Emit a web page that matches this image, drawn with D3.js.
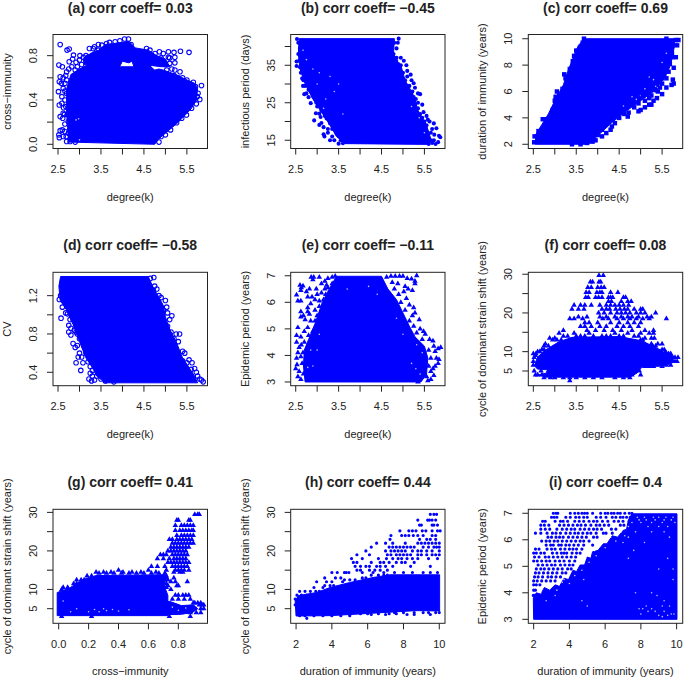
<!DOCTYPE html>
<html><head><meta charset="utf-8">
<script src="https://cdn.jsdelivr.net/npm/d3@7"></script>
<style>html,body{margin:0;padding:0;background:#fff}svg{display:block}text{font-family:"Liberation Sans",Arial,sans-serif;fill:#222}</style>
</head><body><svg id="c" width="685" height="679"></svg>
<script>
// Titles and axis labels
const titles = ["(a) corr coeff= 0.03","(b) corr coeff= \u22120.45","(c) corr coeff= 0.69","(d) corr coeff= \u22120.58","(e) corr coeff= \u22120.11","(f) corr coeff= 0.08","(g) corr coeff= 0.41","(h) corr coeff= 0.44","(i) corr coeff= 0.4"];
const xLabels = ["degree(k)","degree(k)","degree(k)","degree(k)","degree(k)","degree(k)","cross\u2212immunity","duration of immunity (years)","duration of immunity (years)"];
const yLabels = ["cross\u2212immunity","infectious period (days)","duration of immunity (years)","CV","Epidemic period (years)","cycle of dominant strain shift (years)","cycle of dominant strain shift (years)","cycle of dominant strain shift (years)","Epidemic period (years)"];
// Axis limits
const xDomains = [[2.383,5.98],[2.383,5.98],[2.383,5.98],[2.383,5.98],[2.383,5.98],[2.383,5.98],[-0.038,0.995],[1.70,10.32],[1.70,10.34]];
const yDomains = [[-0.038,0.991],[12.8,43.2],[1.68,10.32],[0.26,1.444],[2.86,7.13],[1.2,30.5],[1.21,30.8],[1.21,30.8],[2.85,7.15]];
// Ticks
const kTicks=[2.5,3,3.5,4,4.5,5,5.5], kLab=[2.5,3.5,4.5,5.5];
const xTicks=[kTicks,kTicks,kTicks,kTicks,kTicks,kTicks,[0,.2,.4,.6,.8],[2,4,6,8,10],[2,4,6,8,10]];
const xTickLabels=[kLab,kLab,kLab,kLab,kLab,kLab,[0,.2,.4,.6,.8],[2,4,6,8,10],[2,4,6,8,10]];
const cycT=[5,10,15,20,25,30], cycL=[5,10,20,30];
const yTicks=[[0,.2,.4,.6,.8],[15,20,25,30,35,40],[2,4,6,8,10],[.4,.6,.8,1,1.2],[3,4,5,6,7],cycT,cycT,cycT,[3,4,5,6,7]];
const yTickLabels=[[0,.4,.8],[15,25,35],[2,4,6,8,10],[.4,.8,1.2],[3,4,5,6,7],cycL,cycL,cycL,[3,4,5,6,7]];
const xFmt=[".1f",".1f",".1f",".1f",".1f",".1f",".1f","d","d"];
const yFmt=[".1f","d","d",".1f","d","d","d","d","d"];

const coreA=[[[2.75,.02],[4.75,0],[4.85,.05],[5.0,.1],[5.15,.15],[5.3,.2],[5.45,.26],[5.6,.32],[5.72,.4],[5.75,.5],[5.68,.55],[5.45,.59],[5.3,.62],[5.1,.65],[4.95,.67],[4.85,.68],[4.75,.67],[4.6,.72],[4.3,.70],[3.95,.70],[3.7,.72],[3.4,.74],[3.2,.72],[3.0,.68],[2.8,.63],[2.7,.5],[2.7,.3],[2.72,.15]],
[[3.1,.78],[3.3,.83],[3.45,.85],[3.6,.9],[3.8,.91],[4.0,.92],[4.15,.93],[4.3,.87],[4.6,.85],[4.8,.8],[5.0,.77],[5.1,.7],[4.9,.7],[4.7,.71],[4.4,.70],[4.28,.69],[4.22,.75],[4.15,.735],[4.0,.75],[3.92,.69],[3.5,.7],[3.1,.72]]];
const pointsA=[[2.55,.90],[2.76,.86],[2.71,.85],[2.52,.715],[2.6,.70],[2.76,.745],[2.86,.805],[2.84,.77],[2.92,.74],[3.01,.80],[3.09,.785],[3.2,.785],[3.23,.865],[3.3,.79],[3.32,.865],[3.44,.90],[3.44,.85],[2.53,.565],[2.51,.475],[2.55,.61],[2.62,.505],[2.59,.43],[2.53,.355],[2.59,.37],[2.62,.28],[2.55,.25],[2.61,.235],[2.55,.123],[2.6,.13],[2.52,.085],[2.53,.06],[2.62,.07],[2.66,.183],[2.74,.205],[2.7,.025],[2.78,.025],[2.66,.115],[2.74,.1],[2.68,.34],[2.7,.58],[2.66,.40],[2.7,.655],[2.75,.68],[2.62,.6],[2.66,.55],[2.7,.46],[2.63,.33],[2.72,.27],[2.85,.06],[2.9,.02],[2.68,.62],[2.66,.48],[2.65,.27],[2.69,.07],[2.58,.55],[2.82,.7],[2.95,.7],[3.05,.72],[3.15,.76],[2.9,.67],[5.55,.83],[5.35,.84],[5.2,.83],[5.07,.835],[4.86,.835],[4.95,.82],[5.22,.785],[5.07,.785],[4.95,.745],[5.1,.73],[5.22,.735],[5.03,.67],[5.22,.67],[5.34,.655],[5.65,.56],[5.84,.53],[5.76,.46],[5.8,.405],[5.72,.365],[5.61,.325],[5.49,.265],[5.38,.235],[5.26,.195],[5.12,.13],[5.0,.085],[3.94,.935],[4.14,.95],[3.83,.925],[3.63,.91],[3.52,.895],[4.64,.85],[4.76,.82],[4.56,.865],[4.05,.95],[4.2,.9],[3.7,.92],[5.5,.58],[5.58,.54],[5.7,.52],[5.74,.43],[5.66,.4],[4.9,.07],[3.0,.76],[3.3,.75],[5.3,.6],[5.4,.3],[4.85,.02],[3.35,.88],[3.15,.8],[5.1,.78],[4.9,.78],[5.0,.72],[5.15,.68],[5.2,.62],[5.4,.6]];
const flecksA=[[2.92,.22],[2.98,.23],[3.0,.04]];

const coreB=[[[2.58,42.1],[4.8,42.1],[4.78,38],[4.95,35],[5.05,31],[5.25,27],[5.35,23],[5.55,19],[5.66,15],[5.6,13.9],[3.65,14.1],[3.45,16],[3.3,19],[3.1,22.5],[2.9,26],[2.72,30],[2.6,34],[2.56,38]]];
const pointsB=[[2.53,42],[2.56,41],[2.6,39.5],[2.56,38],[2.62,37.5],[2.52,36],[2.58,36.2],[2.52,34.8],[2.6,34.5],[2.66,34],[2.62,33],[2.7,32.5],[2.65,31.5],[2.75,31],[2.72,29.5],[2.67,29.5],[2.8,28.5],[2.7,27.3],[2.75,27.5],[2.85,24.9],[2.95,26],[3.0,24],[3.1,23],[2.97,22.2],[3.05,22.1],[2.93,20.3],[3.08,21.2],[3.18,21.5],[3.1,19.6],[3.05,19.1],[3.15,18.5],[3.25,18],[3.15,16.6],[3.17,16],[3.25,17],[3.35,16],[3.4,15],[3.5,14.1],[3.55,15],[3.68,14.6],[3.75,15.8],[2.85,28],[2.9,26.8],[2.98,25],[3.08,24],[3.15,22.6],[3.22,20.8],[3.3,19.5],[3.35,18],[3.45,16.8],[3.3,15],[3.6,14.2],[2.8,26.5],[2.68,31],[4.9,42.1],[4.88,41],[4.85,39.5],[4.95,37],[5.02,36.2],[5.08,35],[5.1,33.5],[5.18,32.5],[5.1,32],[5.2,31],[5.25,30.2],[5.28,29],[5.22,28],[5.35,27.5],[5.4,27.3],[5.3,26],[5.28,24.5],[5.45,24.5],[5.48,22.5],[5.4,22],[5.55,21.5],[5.58,20.5],[5.55,19],[5.72,19.5],[5.78,18.2],[5.68,18],[5.73,16.5],[5.84,16.2],[5.87,15.8],[5.82,14.5],[5.76,14],[5.65,15],[5.5,15.5],[4.8,41],[4.78,38],[4.85,37],[4.95,35],[5,33],[5.05,31],[5.15,29.5],[5.25,26.5],[5.35,25],[5.35,23.5],[5.45,21],[5.5,20],[5.62,20],[5.65,17],[5.72,15],[5.6,14],[5.68,14.3]];
const flecksB=[[5.2,32],[5.3,28.5],[5.25,27],[5.4,26],[5.38,21],[3.3,32],[3.4,28],[2.9,34],[2.75,36.5],[2.67,39],[3.05,33],[3.2,26],[3.15,23.5],[4.95,39],[4.9,36],[5.05,32.5],[3.6,22],[3.0,30],[3.5,30],[5.5,17],[5.2,24]];

const coreC=[[[2.55,2.0],[3.8,2.0],[3.95,2.5],[4.15,3.1],[4.35,3.7],[4.7,4.6],[5.0,5.3],[5.3,6.0],[5.55,7],[5.7,8],[5.78,9.3],[5.8,10],[3.7,10],[3.55,9.5],[3.42,8.5],[3.3,7.5],[3.2,6.5],[3.0,5.3],[2.85,4.3],[2.7,3.5],[2.55,2.7]]];
const pointsC=[[2.52,2.15],[2.53,2.6],[2.62,3],[2.72,3.9],[2.8,3.9],[2.95,4.6],[3.0,5.3],[3.02,5.6],[3.05,6.0],[3.1,5.7],[3.18,6.2],[3.27,6.3],[3.25,7.0],[3.22,7.3],[3.35,7.7],[3.42,8.3],[3.45,8.7],[3.5,9.1],[3.62,9.1],[3.65,9.7],[3.68,10],[3.4,2],[3.6,2],[3.75,2.1],[3.88,2.2],[4.0,2.7],[4.2,2.85],[4.3,3.1],[4.33,3.35],[4.5,4.0],[4.7,4.1],[4.72,4.4],[4.95,4.5],[5.0,4.6],[5.1,4.8],[5.2,5.0],[5.25,5.0],[5.3,5.3],[5.2,5.5],[5.05,5.7],[5.38,5.5],[5.4,6.0],[5.45,6.3],[5.5,5.8],[5.6,6.3],[5.72,6.5],[5.77,6.6],[5.75,6.9],[5.6,7.0],[5.5,7.0],[5.77,7.8],[5.82,8.6],[5.74,8.6],[5.85,9.5],[5.88,9.9],[5.82,9.9],[5.75,9.5],[5.6,10],[5.25,6.3],[4.1,3.1],[4.4,3.6],[4.55,4.4],[4.62,4.3],[4.85,4.8],[4.8,5.1],[4.95,5.1],[5.1,5.3],[5.15,5.8],[5.25,5.7],[5.35,6.1],[5.42,6.7],[5.5,6.6],[5.55,7.3],[5.65,7.5],[5.68,8.1],[5.73,8.9],[4.1,2.6],[3.95,2.3]];
const flecksC=[[4.6,4.9],[5.1,6.2],[5.3,6.9],[5.5,8.2],[5.6,8.9],[4.8,5.6],[5.2,7.1],[5.35,6.4],[5.0,5.7],[4.9,5.4]];

const coreD=[[[2.56,1.4],[4.6,1.4],[4.7,1.3],[4.8,1.22],[4.95,1.1],[5.0,.98],[5.1,.85],[5.25,.72],[5.4,.55],[5.55,.45],[5.68,.36],[5.75,.29],[3.6,.29],[3.4,.36],[3.3,.45],[3.15,.55],[3.0,.72],[2.85,.9],[2.7,1.05],[2.55,1.15],[2.52,1.3]]];
const pointsD=[[2.57,.965],[2.68,1.02],[2.72,1.01],[2.6,1.08],[2.53,1.16],[2.56,1.2],[2.75,.89],[2.8,.86],[2.75,.82],[2.8,.79],[2.88,.84],[2.92,.82],[2.85,.7],[2.9,.66],[2.95,.68],[3.0,.6],[2.97,.56],[3.05,.56],[2.92,.5],[3.03,.42],[3.2,.51],[3.25,.46],[3.22,.33],[3.28,.31],[3.3,.36],[3.4,.36],[3.5,.33],[3.6,.31],[3.8,.3],[3.0,.75],[3.1,.68],[3.15,.6],[3.08,.5],[3.3,.42],[3.25,.39],[3.35,.32],[2.95,.8],[2.85,.95],[2.78,.95],[4.73,1.39],[4.65,1.38],[4.75,1.3],[4.8,1.27],[4.72,1.25],[4.9,1.18],[5.0,1.15],[5.03,1.08],[4.95,1.05],[5.15,.99],[5.1,.95],[5.05,.88],[5.13,.82],[5.33,.8],[5.25,.8],[5.3,.72],[5.4,.62],[5.45,.6],[5.55,.53],[5.62,.5],[5.68,.44],[5.72,.4],[5.8,.33],[5.84,.32],[5.88,.3],[5.6,.43],[5.4,.52],[4.85,1.2],[5.05,1.02],[5.2,.75],[5.5,.5],[5.75,.36]];
const flecksD=[];

const coreE=[[[2.72,3.0],[5.42,3.0],[5.55,3.3],[5.58,3.9],[5.5,4.35],[5.28,4.7],[5.15,5.1],[5.0,5.6],[4.85,6.1],[4.65,6.5],[4.5,6.98],[3.45,6.98],[3.28,6.5],[3.12,6.0],[2.95,5.2],[2.8,4.6],[2.7,4.2],[2.68,3.6]]];
const pointsE=[[2.86,6.95],[2.92,6.95],[2.9,6.85],[3.05,6.95],[3.18,6.8],[3.35,6.95],[3.42,6.98],[3.25,6.55],[3.1,6.35],[3.18,6.5],[2.6,6.65],[2.63,6.55],[2.67,6.62],[2.62,6.45],[2.52,6.28],[2.55,6.05],[2.62,6.05],[2.75,6.4],[2.82,6.5],[2.78,6.2],[2.88,6.2],[2.98,6.5],[2.95,6.1],[2.78,5.8],[2.85,5.95],[2.78,5.65],[2.62,5.65],[2.68,5.5],[2.62,5.45],[2.72,5.35],[2.82,5.55],[2.95,5.7],[3.05,5.85],[2.55,5.05],[2.85,5.3],[2.52,4.75],[2.62,4.7],[2.7,4.9],[2.78,5.05],[2.52,4.5],[2.58,4.3],[2.55,4.1],[2.52,3.9],[2.62,3.95],[2.53,3.65],[2.5,3.5],[2.58,3.4],[2.55,3.2],[2.62,3.1],[2.68,3.3],[2.65,3.7],[2.7,4.5],[2.63,4.4],[2.67,4.1],[2.95,5.3],[3.0,5.5],[3.1,5.6],[3.15,6.1],[3.3,6.2],[3.35,6.7],[3.25,6.9],[3.5,6.85],[2.9,4.9],[2.8,4.75],[3.1,6.7],[3.0,6.3],[3.05,6.05],[3.2,6.3],[3.22,6.65],[4.62,6.95],[4.72,6.98],[4.82,6.98],[4.92,6.98],[5.0,6.98],[4.75,6.75],[4.88,6.7],[5.1,6.9],[5.2,6.88],[5.32,7.0],[5.28,6.8],[5.28,6.7],[5.05,6.6],[5.02,6.4],[5.12,6.5],[5.22,6.45],[4.9,6.3],[5.08,6.15],[5.15,5.9],[5.25,5.8],[5.28,5.6],[5.22,5.5],[5.38,5.35],[5.4,5.0],[5.48,4.9],[5.52,4.8],[5.62,4.6],[5.7,4.55],[5.72,4.35],[5.82,4.25],[5.88,4.3],[5.75,4.15],[5.78,3.9],[5.84,3.85],[5.82,3.7],[5.75,3.6],[5.7,3.5],[5.72,3.25],[5.65,3.1],[5.58,3.05],[5.35,3.0],[4.7,6.3],[4.8,6.5],[4.95,6.0],[5.05,5.7],[5.15,5.3],[5.25,5.1],[5.32,4.85],[5.45,4.6],[5.6,4.2],[5.65,3.9],[5.6,3.6],[5.65,3.4],[5.55,3.2]];
const flecksE=[[2.9,3.6],[2.78,3.55],[5.45,4.1],[5.32,4.4],[4.85,5.4],[5,4.8],[3.0,4.2],[5.4,3.3],[5.3,3.5],[5.2,3.7],[2.85,4.2],[3.05,4.8],[4.2,6.6],[4.4,6.3],[3.7,6.5]];

const coreF=[[[2.55,7.2],[2.6,8.6],[2.78,10.4],[3.09,12.5],[3.4,13.7],[4.5,13.9],[5.03,12.8],[5.42,10.7],[5.75,8.3],[5.78,7.3],[5.6,6.5],[5.03,6.0],[4.92,4.5],[4.75,3.4],[2.8,3.4],[2.62,4.0],[2.82,4.5],[2.85,5.3],[2.6,5.5],[2.55,6]]];
const rowsF=[[29.7,[4.03,4.13]],[28,[3.83,3.88,4.03,4.07]],[26.6,[3.77,3.85,4.0,4.08,4.15]],[25.3,[3.73,3.8,3.98,4.05,4.1,4.3,4.47]],[24,[3.72,3.78,3.95,4.02,4.1,4.25,4.3,4.35,4.6,4.65]],[23,[4.25,4.32,4.55,4.7,4.78]],[22,[3.45,3.6,3.7,3.85,4.05,4.2,4.3,4.4,4.5,4.6,4.72]],[21,[3.4,3.55,3.68,4.1,4.2,4.28,4.42,4.52,4.62,4.7,4.85,5.0,5.05]],[20,[4.02,4.15,4.3,4.45,4.55,4.65,4.75,4.9,5.0,5.1,5.35]],[19,[3.55,3.75,4.05,4.2,4.4,4.55,4.7,4.8,4.95,5.15,5.25]],[18.5,[3.35,3.45,3.65,4.12,4.25,4.45,4.6,4.75,4.9,5.05,5.2,5.6]],[17.5,[3.7,3.8,4.0,4.3,4.5,4.7,4.85,5.0]],[16.5,[3.6,3.7,3.85,4.05,4.2,4.45,4.6,4.75,4.95]],[15.5,[3.2,3.75,3.95,4.15,4.35,4.55,4.8,5.1,5.3]],[14.8,[3.1,3.45,3.8,4.4,4.7,5.0,5.2,5.3]],[14,[3.2,3.3,3.5,3.6,3.7,3.9,4.1,4.2,4.3,4.5,4.6,4.85,4.95]],[13.5,[2.88,3.0,5.1,5.25,5.32]],[13,[2.95,3.05,3.15,5.0,5.05]],[12,[2.78,5.25,5.4,5.5]],[11.5,[2.75,2.85,5.28,5.35]],[10.5,[2.7,2.75,5.5,5.55]],[10,[2.6,2.65,5.45,5.58]],[9.5,[2.5,2.56,5.6,5.65,5.7]],[9,[2.55,5.62,5.7]],[8.5,[2.52,5.75,5.8,5.87]],[7.5,[2.5,5.85,5.8]],[6.5,[2.5,5.7,5.6,5.4]],[6.2,[5.3,5.2,5.1,5.5]],[5,[2.52,2.85,4.97,4.85,2.68]],[4,[2.55,2.6,2.7,2.82,4.8,5.0]],[3.3,[3.35,3.0,2.9,2.75,3.2,3.5,3.7,3.9,4.1,4.4,4.6,4.75]],[2.5,[3.35]]];
const flecksF=[];

const coreG=[[[-.01,3.2],[-.01,9.2],[.07,10.3],[.165,12.6],[.25,13.6],[.71,13.8],[.71,10.5],[.73,8.5],[.73,3.2]],[[.7,3.5],[.7,7],[.75,6.8],[.82,5.8],[.9,6],[.93,5],[.89,3.9],[.8,3.5]]];
const rowsG=[[29.5,[.91,.93,.94]],[28,[.79,.8,.87,.88]],[26.6,[.78,.82,.84,.86,.88,.9]],[25.3,[.78,.81,.83,.85,.87,.89,.9]],[24,[.79,.82,.84,.86,.88,.9]],[23,[.74,.76,.79,.81,.83,.85,.87,.89]],[22,[.76,.78,.8,.82,.84,.86,.88,.9]],[21,[.75,.77,.79,.81,.83,.85,.87]],[20,[.73,.75,.77,.79,.81,.83,.85]],[19,[.68,.7,.72,.76,.78,.8,.82,.84,.86]],[18,[.66,.7,.74,.77,.79,.81,.83,.85]],[17,[.73,.75,.77,.79,.81,.83,.85,.87]],[16,[.62,.66,.71,.76,.78,.8,.82,.84,.86]],[15,[.4,.6,.72,.78,.8,.82,.84,.87]],[14.5,[.25,.3,.35,.43,.49,.55,.65,.77,.81,.83]],[14.2,[.27,.32,.37,.42,.47,.52,.57,.62,.67,.71]],[13.5,[.19,.22,.72]],[13,[.77,.72]],[12.5,[.12,.15,.17,.71,.73]],[12,[.75,.78,.86]],[11.5,[.1,.12,.72]],[11,[.73,.8,.79]],[10.5,[.03,.06,.72]],[10,[.75,.02,.1]],[8.5,[.78,.8,.83,.85,.87]],[7.5,[.76,.8,.84,.88]],[6.5,[.91,.93,.95,.9]],[6,[.96,.94,.97]],[5,[.97,.95]],[4,[.95,.92,.88,.82,.76]],[3,[.02,.88,.22,.74]]];
const flecksG=[[.24,4.8],[.3,5],[.32,4.5],[.36,4.8],[.27,4.2],[.2,4.2],[.12,5],[.4,4.4],[.47,4.7],[.08,4.2],[.03,7],[.8,4.6],[.85,5.2],[.76,5.4]];

const coreH=[[[2.0,3.1],[1.95,7],[2.13,8.4],[3.15,9.2],[3.9,10.5],[5,11.8],[6.3,13.1],[7.25,13.8],[10.02,13.8],[10.02,4.4],[8.7,4.5],[5.8,3.7],[3.9,3.2]]];
const rowsH=[[29.5,[9.5,9.7,9.85]],[28,[8.8,9.35,9.45,9.6,9.8]],[26.7,[8.9,9,9.6,9.7,9.9]],[25.2,[7.8,8.3,8.5,8.7,9.05,9.25,9.6,9.9,10.05]],[24,[7.3,7.9,8.1,8.3,8.55,8.8,9.1,9.6,9.8]],[23,[7.25,8.9,9.3,9.5,9.8]],[22,[6.5,7,7.4,8.1,8.8,9,9.2,9.4,9.6,9.8,10]],[21,[6.2,7.2,7.4,7.6,7.8,8,8.2,8.4,8.6,9.1,9.4,9.7,9.85,10]],[20,[5.9,7,7.3,7.5,7.7,7.9,8.1,8.5,8.8,9,9.3,9.6,10]],[19,[5.4,6.1,7.1,7.3,7.6,7.8,8,8.2,8.4,8.8,9,9.3,9.6,9.8,10]],[18,[5.1,5.7,6.6,7.05,7.4,7.7,7.9,8.2,8.5,8.8,9.4,9.9]],[17,[5.2,5.4,6.2,6.7,6.9,7.2,7.6,7.9,8.1,8.6]],[16,[5.3,5.6,5.9,6.1,6.5,6.7,7,7.4,8.4,9.5]],[15,[5.4,5.6,6.1,6.4,6.7,7.1]],[14.4,[4,4.3,4.7,4.8,4.95,5.7,6.3,6.9,7.5,8,8.5,9.1,9.5,9.9]],[13.7,[6.2,6.6,6.9,7.1]],[13,[3.6,4.2,4.5,5.7,5.9]],[12.5,[4.7,5,5.3]],[12,[3.15,3.7,4,4.6]],[11,[3.6,3.9,4.1]],[10.5,[3,3.5]],[9.5,[2.5,2.8,2.2,3.1,3.3]],[8.5,[2.05,2.3,2.6]],[7.5,[1.95]],[6,[1.95]],[3.2,[2.2,2.5,3,3.5,4,4.5,5]],[3.7,[5.6,6,6.6,7.2,7.6]],[2.5,[2.6]],[3.5,[5,6.2,7,8.2,8.6,9.5]],[4,[7.5,8,8.6,9.1,9.4,9.8,10]],[4.6,[6.3,6.9,7.3,7.6]]];
const flecksH=[];

const coreI=[[[2.0,3],[1.98,3.8],[2.15,4.0],[2.4,3.95],[2.6,4.2],[2.9,4.1],[3.2,4.3],[3.45,4.25],[3.7,4.55],[3.95,4.5],[4.2,4.85],[4.4,4.8],[4.6,5.05],[4.85,5.05],[5.0,5.35],[5.2,5.3],[5.3,5.55],[5.6,5.6],[5.9,5.85],[6.1,5.85],[6.4,6.15],[6.7,6.1],[7,6.35],[7.2,6.4],[7.3,6.75],[7.5,6.98],[10.02,6.98],[10.02,3]]];
const rowsI=[[7,[3.1,3.25,3.35,4.05,4.3,4.5,4.7,4.85,5,5.3,5.75,6,6.15,6.35,6.5,6.7,6.85,7.1,7.35,7.5]],[6.85,[3,3.15,3.3,3.8,4.05,4.35,4.55,4.8,5,5.5,5.75,6.05,6.4,6.6,6.85,7,7.2,7.4]],[6.7,[2.5,2.65,3.2,3.5,3.65,3.9,4.3,4.55,4.8,5.1,5.35,5.55,5.85,6.15,6.5,6.75,7,7.35]],[6.55,[2.4,2.6,2.85,3.45,3.7,3.95,4.2,4.45,4.65,4.9,5.2,5.5,5.7,5.95,6.2,6.85,7.05]],[6.4,[2.4,2.65,2.9,3.3,3.6,3.85,4.1,4.3,4.6,4.85,5.1,5.35,5.55,5.8,6.35,6.6]],[6.25,[2.1,2.4,2.75,3.05,3.25,3.5,3.8,4.05,4.3,4.5,4.75,5,5.2,5.5,5.9,6.05,6.4]],[6.1,[2.8,3,3.25,3.45,3.65,3.95,4.2,4.45,4.7,4.95,5.35,5.55]],[5.95,[2.45,2.7,2.9,3.15,3.35,3.6,3.85,4.1,4.35,4.6,4.8,5.1]],[5.8,[2.7,2.95,3.1,3.4,3.55,3.8,4,4.25,4.5,4.8,5.3]],[5.65,[2.1,2.3,2.75,3,3.2,3.5,3.75,4,4.2,4.4,4.7]],[5.5,[2,2.15,2.4,2.6,3.05,3.3,3.55,3.7,3.85,4.15,4.4,4.6]],[5.35,[2.05,2.3,2.65,2.85,3.1,3.35,3.6,3.85,4.1,4.35]],[5.2,[2,2.2,2.45,2.7,2.9,3.2,3.45,3.7,4,4.3]],[5.05,[2.25,2.5,2.75,3,3.2,3.5,3.75,4,4.2]],[4.9,[2.15,2.4,2.6,2.85,3.1,3.35,3.6,3.9,4.1]],[4.75,[2.1,2.3,2.55,2.8,3.05,3.3,3.6,3.8]],[4.6,[2.05,2.25,2.5,2.8,3,3.25,3.5]],[4.45,[2,2.2,2.45,2.7,2.95,3.2]],[4.3,[2,2.15,2.35]],[4.1,[2,2.1]],[3.9,[1.98,2.05]]];
const flecksI=[[7.4,6.85],[7.8,6.85],[8.2,6.85],[8.7,6.85],[9,6.85],[9.4,6.85],[9.8,6.85],[7.9,6.75],[8.3,6.75],[8.8,6.75],[9.3,6.75],[9.7,6.75],[7.5,6.65],[8,6.65],[8.6,6.65],[9.2,6.65],[9.9,6.65],[7.3,6.5],[8.4,6.5],[9,6.5],[9.5,6.5],[6.9,6.3],[7.7,6.3],[8.6,6.3],[9.3,6.3],[6.3,6.1],[7.3,6.1],[9.6,6.1],[7,5.9],[8.2,5.9],[5.4,5.6],[7.6,5.6],[4.9,5.3],[7.3,5.3],[9.5,5.3],[9,4.9],[9.8,4.9],[3.7,4.5],[4.8,4.5],[9.8,4.5],[2.9,4.3],[3.4,4.3],[2.4,4],[7.7,4],[8.6,4],[3.2,3.9],[8.9,3.9],[2.7,3.7],[4.7,3.7],[9.3,3.7],[5,3.5],[8.3,3.5],[9.2,3.5],[9.6,3.5],[7.9,3.4],[8.1,3.4],[8.6,3.4],[8.4,3.3],[8.8,3.3],[9.3,3.3],[8,3.2],[9.7,3.2],[9.85,3.2],[9,3.15],[9.5,3.15],[9.2,3.1],[3.3,4.1],[3.6,4.4],[4,4.35],[4.3,4.65],[4.7,4.85],[5.1,5.15],[5.5,5.4],[6,5.7],[6.6,5.95],[7.1,6.15]];

const flatten = rows => rows.flatMap(([y,xs]) => xs.map(x => [x,y]));
const allCores=[coreA,coreB,coreC,coreD,coreE,coreF,coreG,coreH,coreI];
const allFlecks=[flecksA,flecksB,flecksC,flecksD,flecksE,flecksF,flecksG,flecksH,flecksI];
const allPoints=[pointsA,pointsB,pointsC,pointsD,pointsE,flatten(rowsF),flatten(rowsG),flatten(rowsH),flatten(rowsI)];
const BLUE="#0000ff";
const shapes=["open","circle","square","open","triangle","triangle","triangle","dot","dot"];
const boxX=[[53,207.5],[290.7,445],[528.3,682.7]];
const boxY=[[34.5,148.5],[272.3,385.7],[509.3,623.3]];
const sym={circle:d3.symbol(d3.symbolCircle,13)(),square:d3.symbol(d3.symbolSquare,20)(),triangle:d3.symbol(d3.symbolTriangle,13)(),dot:d3.symbol(d3.symbolCircle,8)(),open:d3.symbol(d3.symbolCircle,16)()};
const svg=d3.select("#c");
titles.forEach((t,i)=>{
  const [x0,x1]=boxX[i%3],[y0,y1]=boxY[Math.floor(i/3)];
  const x=d3.scaleLinear().domain(xDomains[i]).range([x0,x1]);
  const y=d3.scaleLinear().domain(yDomains[i]).range([y1,y0]);
  const g=svg.append("g");
  const line=d3.line().x(d=>x(d[0])).y(d=>y(d[1])).curve(d3.curveLinearClosed);
  g.selectAll("path.core").data(allCores[i]).join("path").attr("class","core").attr("d",line).attr("fill",BLUE).attr("stroke",BLUE).attr("stroke-width",1);
  g.selectAll("circle.fleck").data(allFlecks[i]).join("circle").attr("class","fleck").attr("cx",d=>x(d[0])).attr("cy",d=>y(d[1])).attr("r",0.8).attr("fill","#fff").attr("opacity",.75);
  const s=shapes[i];
  g.selectAll("path.pt").data(allPoints[i]).join("path").attr("class","pt").attr("d",sym[s])
    .attr("transform",d=>`translate(${x(d[0])},${y(d[1])})`)
    .attr("fill",s==="open"?"none":BLUE).attr("stroke",s==="open"?BLUE:"none").attr("stroke-width",s==="open"?1.1:0);
  g.append("rect").attr("x",x0).attr("y",y0).attr("width",x1-x0).attr("height",y1-y0).attr("fill","none").attr("stroke","#222").attr("stroke-width",1);
  xTicks[i].forEach(v=>g.append("line").attr("x1",x(v)).attr("x2",x(v)).attr("y1",y1).attr("y2",y1+6).attr("stroke","#222"));
  yTicks[i].forEach(v=>g.append("line").attr("y1",y(v)).attr("y2",y(v)).attr("x1",x0).attr("x2",x0-6).attr("stroke","#222"));
  xTickLabels[i].forEach(v=>g.append("text").attr("x",x(v)).attr("y",y1+24.5).attr("text-anchor","middle").attr("font-size",11).text(d3.format(xFmt[i])(v)));
  yTickLabels[i].forEach(v=>g.append("text").attr("transform",`translate(${x0-16},${y(v)}) rotate(-90)`).attr("text-anchor","middle").attr("font-size",11).text(d3.format(yFmt[i])(v)));
  g.append("text").attr("x",(x0+x1)/2).attr("y",y0-22).attr("text-anchor","middle").attr("font-size",14).attr("font-weight","bold").text(t);
  g.append("text").attr("x",(x0+x1)/2).attr("y",y1+52).attr("text-anchor","middle").attr("font-size",11).text(xLabels[i]);
  g.append("text").attr("transform",`translate(${x0-42},${(y0+y1)/2}) rotate(-90)`).attr("text-anchor","middle").attr("font-size",11).text(yLabels[i]);
});
</script></body></html>
